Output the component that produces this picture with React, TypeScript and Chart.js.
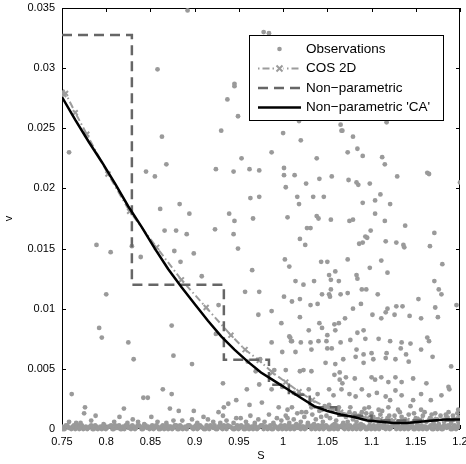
import React, { useEffect, useRef } from "react";
import { Chart, registerables } from "chart.js";
Chart.register(...registerables);

const X_TICKS = [0.75, 0.8, 0.85, 0.9, 0.95, 1, 1.05, 1.1, 1.15, 1.2];
const Y_TICKS = [0, 0.005, 0.01, 0.015, 0.02, 0.025, 0.03, 0.035];

const LABELS = ["Observations", "COS 2D", "Non\u2212parametric", "Non\u2212parametric 'CA'"];

// Observations: sparse upper cloud
const obsUpper: number[][] = [
  [1.000,0.0246],[1.020,0.0240],[1.066,0.0248],[1.079,0.0243],[1.073,0.0230],[1.084,0.0233],[1.090,0.0227],[1.038,0.0225],
  [1.112,0.0226],[1.115,0.0220],[1.001,0.0217],[1.001,0.0211],[1.013,0.0211],[1.041,0.0208],[1.055,0.0210],[1.129,0.0210],
  [1.163,0.0213],[1.165,0.0212],[1.074,0.0207],[1.083,0.0205],[1.085,0.0203],[1.098,0.0204],[1.026,0.0204],[1.003,0.0201],
  [1.200,0.0205],[1.016,0.0193],[1.034,0.0193],[1.046,0.0193],[1.104,0.0190],[1.110,0.0195],[1.018,0.0187],[1.090,0.0188],
  [1.121,0.0187],[1.005,0.0176],[1.038,0.0177],[1.040,0.0175],[1.054,0.0174],[1.075,0.0173],[1.079,0.0174],[1.104,0.0179],
  [1.115,0.0173],[1.138,0.0169],[1.027,0.0167],[1.031,0.0167],[1.099,0.0165],[1.171,0.0163],[1.019,0.0158],[1.025,0.0153],
  [1.093,0.0160],[1.095,0.0159],[1.086,0.0154],[1.090,0.0155],[1.116,0.0156],[1.128,0.0155],[1.136,0.0153],[1.137,0.0151],
  [1.166,0.0152],[1.002,0.0141],[1.007,0.0135],[1.043,0.0139],[1.050,0.0139],[1.073,0.0141],[1.111,0.0140],[1.180,0.0137],
  [1.098,0.0134],[1.118,0.0130],[1.059,0.0131],[1.052,0.0128],[1.054,0.0124],[1.063,0.0123],[1.083,0.0128],[1.084,0.0125],
  [1.014,0.0123],[1.023,0.0120],[1.035,0.0123],[1.171,0.0123],[1.054,0.0116],[1.089,0.0116],[1.094,0.0116],[1.176,0.0116],
  [1.179,0.0112],[1.001,0.0110],[1.010,0.0106],[1.019,0.0108],[1.044,0.0112],[1.052,0.0112],[1.053,0.0110],[1.065,0.0112],
  [1.073,0.0113],[1.107,0.0112],[1.153,0.0108],[1.031,0.0103],[1.039,0.0104],[1.088,0.0104],[1.079,0.0100],[1.118,0.0100],
  [1.128,0.0102],[1.135,0.0102],[1.172,0.0101],[1.196,0.0103],
  [0.892,0.0348],[0.978,0.0330],[0.984,0.0329],[0.945,0.0287],[0.945,0.0285],[0.937,0.0274],[0.949,0.0260],[0.930,0.0248],
  [0.863,0.0243],[1.018,0.0256],[0.858,0.0299],[1.065,0.0253],[1.067,0.0248],[1.117,0.0255],
  [0.758,0.0230],[0.789,0.0153],[0.805,0.0147],[0.800,0.0112],[0.829,0.0152],[0.839,0.0143],[0.845,0.0214],[0.855,0.0210],
  [0.868,0.0220],[0.861,0.0183],[0.866,0.0165],
  [0.924,0.0216],[0.944,0.0214],[0.953,0.0225],[0.962,0.0216],[0.973,0.0215],[0.987,0.0230],[0.963,0.0192],[0.973,0.0193],
  [0.883,0.0187],[0.894,0.0179],[0.939,0.0179],[0.945,0.0173],[0.966,0.0175],[0.879,0.0165],[0.891,0.0162],[0.923,0.0166],
  [0.944,0.0162],[0.949,0.0150],[0.877,0.0148],[0.884,0.0139],[0.899,0.0146],[0.908,0.0127],[0.965,0.0132],[0.957,0.0114],
  [0.973,0.0114],[0.927,0.0103],
];

// Observations: middle cloud (0.001 - 0.01)
const obsMiddle: number[][] = [
  [0.792,0.0084],[0.795,0.0076],[0.825,0.0072],[0.831,0.0058],[0.874,0.0086],[0.876,0.0061],[0.924,0.0079],[0.897,0.0054],
  [0.761,0.0029],[0.776,0.0018],[0.775,0.0013],[0.766,0.0005],[0.788,0.0011],[0.815,0.0010],[0.820,0.0017],[0.830,0.0008],
  [0.836,0.0006],[0.842,0.0026],[0.847,0.0026],[0.851,0.0010],[0.864,0.0033],[0.872,0.0017],[0.874,0.0029],[0.882,0.0015],
  [0.876,0.0007],[0.899,0.0015],[0.910,0.0010],[0.897,0.0008],[0.932,0.0038],[0.927,0.0014],[0.933,0.0018],[0.938,0.0021],
  [0.932,0.0011],[0.947,0.0009],[1.008,0.0076],[1.010,0.0073],
  [0.972,0.0095],[0.987,0.0098],[1.019,0.0093],[1.041,0.0088],[1.058,0.0087],[1.063,0.0088],[1.070,0.0092],[1.101,0.0095],
  [1.111,0.0092],[1.116,0.0097],[1.126,0.0095],[1.143,0.0094],[1.156,0.0092],[1.175,0.0093],[0.998,0.0088],[1.029,0.0082],
  [1.044,0.0084],[1.059,0.0082],[1.084,0.0080],[1.091,0.0082],[1.007,0.0077],[1.009,0.0073],[1.020,0.0072],[1.031,0.0072],
  [1.040,0.0073],[1.050,0.0078],[1.049,0.0073],[1.065,0.0072],[1.076,0.0074],[1.093,0.0075],[1.108,0.0075],[1.121,0.0073],
  [1.134,0.0072],[1.144,0.0071],[1.163,0.0076],[1.165,0.0073],[0.987,0.0072],[0.999,0.0064],[1.014,0.0064],[1.032,0.0066],
  [1.050,0.0067],[1.055,0.0067],[1.083,0.0066],[1.091,0.0062],[1.100,0.0063],[1.117,0.0063],[1.133,0.0067],[1.139,0.0062],
  [1.156,0.0066],[0.960,0.0056],[0.974,0.0058],[1.048,0.0055],[1.059,0.0054],[1.068,0.0058],[1.082,0.0060],[1.091,0.0055],
  [1.102,0.0058],[1.116,0.0059],[1.127,0.0058],[1.142,0.0056],[1.169,0.0060],[1.190,0.0052],[0.969,0.0048],[0.990,0.0049],
  [1.003,0.0049],[1.019,0.0048],[1.023,0.0049],[1.032,0.0048],[1.058,0.0045],[1.064,0.0047],[1.071,0.0043],[1.064,0.0041],
  [1.067,0.0038],[1.081,0.0042],[1.100,0.0043],[1.104,0.0041],[1.111,0.0043],[1.119,0.0039],[1.127,0.0043],[1.134,0.0039],
  [1.147,0.0042],[1.162,0.0038],[1.187,0.0035],[1.188,0.0033],[0.959,0.0033],[0.973,0.0037],[0.987,0.0033],[0.999,0.0035],
  [1.012,0.0030],[1.029,0.0033],[1.039,0.0029],[1.052,0.0033],[1.057,0.0028],[1.066,0.0033],[1.075,0.0029],[1.082,0.0027],
  [1.089,0.0033],[1.097,0.0028],[1.106,0.0030],[1.116,0.0027],[1.121,0.0024],[1.127,0.0032],[1.134,0.0028],[1.147,0.0024],
  [1.156,0.0029],[1.167,0.0024],[1.179,0.0028],[0.947,0.0024],[0.962,0.0020],[0.976,0.0022],[0.995,0.0018],[1.005,0.0016],
  [1.010,0.0018],[1.021,0.0014],[1.032,0.0018],[1.044,0.0016],[1.052,0.0020],[1.063,0.0018],[1.076,0.0018],[1.089,0.0014],
  [1.097,0.0018],[1.108,0.0016],[1.119,0.0018],[1.130,0.0016],[1.144,0.0019],[1.156,0.0016],[1.172,0.0013],[1.187,0.0014],
  [1.198,0.0016],
];

// Observations: low cloud just above the baseline
const obsLow: number[][] = [
  [0.758,0.0006],[0.771,0.0005],[0.783,0.0007],[0.797,0.0004],[0.809,0.0006],[0.824,0.0005],[0.843,0.0004],[0.858,0.0006],
  [0.868,0.0005],[0.886,0.0007],[0.903,0.0005],[0.915,0.0008],[0.921,0.0006],[0.929,0.0005],[0.936,0.0007],[0.944,0.0005],
  [0.952,0.0009],[0.958,0.0006],[0.963,0.0011],[0.968,0.0005],[0.972,0.0008],[0.979,0.0006],[0.984,0.0012],[0.989,0.0005],
  [0.993,0.0009],[0.998,0.0007],[1.003,0.0011],[1.007,0.0005],[1.012,0.0008],[1.016,0.0013],[1.020,0.0006],[1.024,0.0010],
  [1.028,0.0005],[1.033,0.0012],[1.037,0.0008],[1.041,0.0015],[1.045,0.0006],[1.049,0.0011],[1.053,0.0009],[1.056,0.0016],
  [1.060,0.0007],[1.064,0.0012],[1.068,0.0005],[1.071,0.0010],[1.075,0.0014],[1.079,0.0008],[1.083,0.0006],[1.086,0.0011],
  [1.090,0.0009],[1.094,0.0013],[1.098,0.0006],[1.102,0.0010],[1.106,0.0008],[1.110,0.0012],[1.114,0.0005],[1.118,0.0009],
  [1.122,0.0007],[1.126,0.0011],[1.130,0.0006],[1.134,0.0010],[1.138,0.0008],[1.142,0.0012],[1.146,0.0005],[1.150,0.0009],
  [1.154,0.0007],[1.158,0.0011],[1.162,0.0006],[1.166,0.0009],[1.170,0.0005],[1.174,0.0008],[1.178,0.0011],[1.182,0.0006],
  [1.186,0.0009],[1.190,0.0005],[1.194,0.0008],[1.198,0.0006],
  [1.005,0.0009],[1.015,0.0004],[1.026,0.0014],[1.035,0.0004],[1.043,0.0010],[1.047,0.0019],[1.058,0.0004],[1.062,0.0016],
  [1.073,0.0006],[1.081,0.0013],[1.088,0.0004],[1.092,0.0017],[1.100,0.0013],[1.108,0.0004],[1.112,0.0015],[1.120,0.0011],
  [1.128,0.0004],[1.132,0.0014],[1.140,0.0004],[1.148,0.0013],[1.152,0.0004],[1.160,0.0014],[1.168,0.0012],[1.176,0.0004],
  [1.184,0.0012],[1.192,0.0011],[1.197,0.0013],
];

// Observations: dense band at v ~ 0 (first layer)
const obsBand: number[][] = [
  [0.750,0.0002],[0.753,0],[0.756,0.0003],[0.759,0.0001],[0.762,0.0002],[0.765,0],[0.768,0.0003],[0.771,0.0001],
  [0.774,0],[0.777,0.0002],[0.780,0.0001],[0.783,0.0003],[0.786,0],[0.789,0.0002],[0.792,0.0001],[0.795,0],
  [0.798,0.0003],[0.801,0.0001],[0.804,0.0002],[0.807,0],[0.810,0.0003],[0.813,0.0001],[0.816,0],[0.819,0.0002],
  [0.822,0.0003],[0.825,0.0001],[0.828,0],[0.831,0.0002],[0.834,0.0001],[0.837,0.0003],[0.840,0],[0.843,0.0002],
  [0.846,0.0001],[0.849,0],[0.852,0.0003],[0.855,0.0001],[0.858,0.0002],[0.861,0],[0.864,0.0003],[0.867,0.0001],
  [0.870,0],[0.873,0.0002],[0.876,0.0001],[0.879,0.0003],[0.882,0],[0.885,0.0002],[0.888,0.0001],[0.891,0],
  [0.894,0.0003],[0.897,0.0001],[0.900,0.0002],[0.903,0],[0.906,0.0003],[0.909,0.0001],[0.912,0],[0.915,0.0002],
  [0.918,0.0003],[0.921,0.0001],[0.924,0],[0.927,0.0002],[0.930,0.0001],[0.933,0.0003],[0.936,0],[0.939,0.0002],
  [0.942,0.0001],[0.945,0],[0.948,0.0003],[0.951,0.0001],[0.954,0.0002],[0.957,0],[0.960,0.0003],[0.963,0.0001],
  [0.966,0],[0.969,0.0002],[0.972,0.0001],[0.975,0.0003],[0.978,0],[0.981,0.0002],[0.984,0.0001],[0.987,0],
  [0.990,0.0003],[0.993,0.0001],[0.996,0.0002],[0.999,0],[1.002,0.0003],[1.005,0.0001],[1.008,0],[1.011,0.0002],
  [1.014,0.0003],[1.017,0.0001],[1.020,0],[1.023,0.0002],[1.026,0.0001],[1.029,0.0003],[1.032,0],[1.035,0.0002],
  [1.038,0.0001],[1.041,0],[1.044,0.0003],[1.047,0.0001],[1.050,0.0002],[1.053,0],[1.056,0.0003],[1.059,0.0001],
  [1.062,0],[1.065,0.0002],[1.068,0.0001],[1.071,0.0003],[1.074,0],[1.077,0.0002],[1.080,0.0001],[1.083,0],
  [1.086,0.0003],[1.089,0.0001],[1.092,0.0002],[1.095,0],[1.098,0.0003],[1.101,0.0001],[1.104,0],[1.107,0.0002],
  [1.110,0.0003],[1.113,0.0001],[1.116,0],[1.119,0.0002],[1.122,0.0001],[1.125,0.0003],[1.128,0],[1.131,0.0002],
  [1.134,0.0001],[1.137,0],[1.140,0.0003],[1.143,0.0001],[1.146,0.0002],[1.149,0],[1.152,0.0003],[1.155,0.0001],
  [1.158,0],[1.161,0.0002],[1.164,0.0001],[1.167,0.0003],[1.170,0],[1.173,0.0002],[1.176,0.0001],[1.179,0],
  [1.182,0.0003],[1.185,0.0001],[1.188,0.0002],[1.191,0],[1.194,0.0003],[1.197,0.0001],[1.200,0.0002],
];

// Observations: dense band at v ~ 0 (second layer)
const obsBand2: number[][] = [
  [0.7515,0],[0.7545,0.0003],[0.7575,0.0001],[0.7605,0],[0.7635,0.0003],[0.7665,0.0002],[0.7695,0],[0.7725,0.0003],
  [0.7755,0.0001],[0.7785,0],[0.7815,0.0002],[0.7845,0],[0.7875,0.0003],[0.7905,0],[0.7935,0.0002],[0.7965,0.0001],
  [0.7995,0],[0.8025,0.0002],[0.8055,0.0003],[0.8085,0],[0.8115,0.0001],[0.8145,0.0003],[0.8175,0],[0.8205,0],
  [0.8235,0.0003],[0.8265,0.0002],[0.8295,0.0003],[0.8325,0],[0.8355,0.0003],[0.8385,0.0002],[0.8415,0],[0.8445,0.0003],
  [0.8475,0.0002],[0.8505,0.0001],[0.8535,0],[0.8565,0.0003],[0.8595,0],[0.8625,0.0002],[0.8655,0],[0.8685,0.0003],
  [0.8715,0.0002],[0.8745,0],[0.8775,0.0003],[0.8805,0],[0.8835,0.0003],[0.8865,0],[0.8895,0.0002],[0.8925,0.0003],
  [0.8955,0.0002],[0.8985,0],[0.9015,0.0003],[0.9045,0.0001],[0.9075,0.0002],[0.9105,0],[0.9135,0.0003],[0.9165,0],
  [0.9195,0.0002],[0.9225,0.0003],[0.9255,0],[0.9285,0.0003],[0.9315,0],[0.9345,0.0002],[0.9375,0.0003],[0.9405,0.0002],
  [0.9435,0],[0.9465,0.0001],[0.9495,0],[0.9525,0.0003],[0.9555,0],[0.9585,0.0003],[0.9615,0],[0.9645,0.0002],
  [0.9675,0.0003],[0.9705,0],[0.9735,0.0002],[0.9765,0.0003],[0.9795,0.0002],[0.9825,0],[0.9855,0.0003],[0.9885,0],
  [0.9915,0.0002],[0.9945,0],[0.9975,0.0003],[1.0005,0.0002],[1.0035,0],[1.0065,0.0003],[1.0095,0.0002],[1.0125,0],
  [1.0155,0.0001],[1.0185,0.0003],[1.0215,0.0002],[1.0245,0],[1.0275,0.0003],[1.0305,0.0002],[1.0335,0.0003],[1.0365,0],
  [1.0395,0.0003],[1.0425,0.0002],[1.0455,0],[1.0485,0.0003],[1.0515,0],[1.0545,0.0002],[1.0575,0],[1.0605,0.0003],
  [1.0635,0.0002],[1.0665,0.0003],[1.0695,0],[1.0725,0.0002],[1.0755,0.0003],[1.0785,0],[1.0815,0.0003],[1.0845,0.0002],
  [1.0875,0],[1.0905,0.0003],[1.0935,0],[1.0965,0.0002],[1.0995,0],[1.1025,0.0003],[1.1055,0.0002],[1.1085,0],
  [1.1115,0.0002],[1.1145,0.0003],[1.1175,0.0002],[1.1205,0],[1.1235,0.0003],[1.1265,0.0002],[1.1295,0.0003],[1.1325,0],
  [1.1355,0.0003],[1.1385,0.0002],[1.1415,0],[1.1445,0.0003],[1.1475,0],[1.1505,0.0002],[1.1535,0],[1.1565,0.0003],
  [1.1595,0.0002],[1.1625,0],[1.1655,0.0002],[1.1685,0],[1.1715,0.0003],[1.1745,0],[1.1775,0.0002],[1.1805,0],
  [1.1835,0.0002],[1.1865,0.0003],[1.1895,0],[1.1925,0.0002],[1.1955,0],[1.1985,0.0003],
];

// COS 2D
const cosS = [0.750, 0.752, 0.754, 0.765, 0.778, 0.802, 0.8265, 0.857, 0.885, 0.913, 0.941, 0.957, 0.973, 0.988, 1.003, 1.018, 1.033, 1.050, 1.065, 1.080, 1.095, 1.110, 1.125, 1.140, 1.155, 1.170, 1.185, 1.200];
const cosV = [0.0280, 0.0278, 0.0279, 0.0263, 0.0245, 0.0212, 0.0181, 0.0151, 0.0124, 0.0101, 0.0078, 0.0066, 0.0057, 0.0047, 0.0039, 0.0031, 0.0024, 0.0018, 0.0014, 0.0011, 0.0009, 0.0008, 0.0007, 0.0007, 0.0008, 0.0008, 0.0009, 0.0010];

// Non-parametric (step function, value holds until next break)
const npS = [0.75, 0.829, 0.933, 0.984, 1.0065, 1.03, 1.06, 1.10, 1.2];
const npV = [0.03275, 0.0120, 0.00575, 0.00367, 0.00285, 0.0018, 0.0011, 0.0007, 0.0007];

// Non-parametric 'CA'
const caS = [0.75, 0.765, 0.78, 0.795, 0.81, 0.825, 0.84, 0.855, 0.87, 0.885, 0.90, 0.915, 0.93, 0.945, 0.96, 0.975, 0.99, 1.005, 1.02, 1.035, 1.05, 1.065, 1.08, 1.095, 1.11, 1.125, 1.14, 1.155, 1.17, 1.185, 1.2];
const caV = [0.0276, 0.0257, 0.0239, 0.0222, 0.0204, 0.0185, 0.0168, 0.0150, 0.0133, 0.0118, 0.0104, 0.0090, 0.0077, 0.0066, 0.0056, 0.0047, 0.0040, 0.0033, 0.0026, 0.0019, 0.0015, 0.0012, 0.0010, 0.0007, 0.0006, 0.0005, 0.0005, 0.0006, 0.0007, 0.0008, 0.0008];

const FONT = '"Liberation Sans", Arial, Helvetica, sans-serif';
const OBS_COLOR = "#9a9a9a";
const COS_COLOR = "#9c9c9c";
const NP_COLOR = "#666666";

const pairs = (a: number[][]) => a.map(([x, y]) => ({ x, y }));
const zipXY = (xs: number[], ys: number[]) => xs.map((x, i) => ({ x, y: ys[i] }));
const fmt = (v: number) => String(+v.toFixed(4));

// npS / npV: step values from each break to the next
const stepData = () => {
  const out: { x: number; y: number }[] = [];
  for (let i = 0; i < npS.length; i++) {
    if (i > 0) out.push({ x: npS[i], y: npV[i - 1] });
    out.push({ x: npS[i], y: npV[i] });
  }
  return out;
};

const framePlugin = {
  id: "matlabFrame",
  beforeDatasetsDraw(chart: any) {
    const { ctx, chartArea } = chart;
    const { left, right, top, bottom } = chartArea;
    ctx.save();
    ctx.strokeStyle = "#000";
    ctx.lineWidth = 1;
    ctx.strokeRect(left + 0.5, top + 0.5, right - left - 1, bottom - top - 1);
    const xs = chart.scales.x;
    const ys = chart.scales.y;
    const L = 4;
    ctx.beginPath();
    X_TICKS.forEach((v) => {
      const p = Math.round(xs.getPixelForValue(v)) + 0.5;
      ctx.moveTo(p, bottom); ctx.lineTo(p, bottom - L);
      ctx.moveTo(p, top); ctx.lineTo(p, top + L);
    });
    Y_TICKS.forEach((v) => {
      const p = Math.round(ys.getPixelForValue(v)) + 0.5;
      ctx.moveTo(left, p); ctx.lineTo(left + L, p);
      ctx.moveTo(right, p); ctx.lineTo(right - L, p);
    });
    ctx.stroke();
    ctx.restore();
  },
};

const legendPlugin = {
  id: "matlabLegend",
  afterDraw(chart: any) {
    const { ctx } = chart;
    const bx = 249.5, by = 35.5, bw = 194, bh = 85;
    const rows = [49, 68.5, 88, 107.5];
    const x0 = 258, x1 = 301, tx = 306;
    ctx.save();
    ctx.fillStyle = "#fff";
    ctx.fillRect(bx, by, bw, bh);
    ctx.strokeStyle = "#000";
    ctx.lineWidth = 1;
    ctx.strokeRect(bx, by, bw, bh);
    const mid = (x0 + x1) / 2;
    ctx.fillStyle = OBS_COLOR;
    ctx.beginPath();
    ctx.arc(mid, rows[0], 2.3, 0, Math.PI * 2);
    ctx.fill();
    ctx.strokeStyle = COS_COLOR;
    ctx.lineWidth = 2;
    ctx.setLineDash([1.5, 3, 7, 3]);
    ctx.beginPath();
    ctx.moveTo(x0, rows[1]); ctx.lineTo(x1, rows[1]);
    ctx.stroke();
    ctx.setLineDash([]);
    ctx.fillStyle = "#fff";
    ctx.fillRect(mid - 4, rows[1] - 4, 8, 8);
    ctx.beginPath();
    ctx.moveTo(mid - 3, rows[1] - 3); ctx.lineTo(mid + 3, rows[1] + 3);
    ctx.moveTo(mid - 3, rows[1] + 3); ctx.lineTo(mid + 3, rows[1] - 3);
    ctx.stroke();
    ctx.strokeStyle = NP_COLOR;
    ctx.lineWidth = 2.5;
    ctx.setLineDash([10, 6]);
    ctx.beginPath();
    ctx.moveTo(x0, rows[2]); ctx.lineTo(x1 + 1, rows[2]);
    ctx.stroke();
    ctx.setLineDash([]);
    ctx.strokeStyle = "#000";
    ctx.lineWidth = 2.5;
    ctx.beginPath();
    ctx.moveTo(x0, rows[3]); ctx.lineTo(x1, rows[3]);
    ctx.stroke();
    ctx.fillStyle = "#000";
    ctx.font = `13.5px ${FONT}`;
    ctx.textBaseline = "middle";
    ctx.textAlign = "left";
    LABELS.forEach((t, i) => ctx.fillText(t, tx, rows[i]));
    ctx.restore();
  },
};

export default function App() {
  const ref = useRef<HTMLCanvasElement | null>(null);
  useEffect(() => {
    if (!ref.current) return;
    const obs = [...pairs(obsBand), ...pairs(obsBand2), ...pairs(obsLow), ...pairs(obsMiddle), ...pairs(obsUpper)];
    const chart = new Chart(ref.current, {
      type: "scatter",
      data: {
        datasets: [
          {
            label: LABELS[0],
            data: obs,
            pointRadius: 2.4,
            pointBackgroundColor: OBS_COLOR,
            pointBorderWidth: 0,
            showLine: false,
            order: 4,
            clip: { left: 0, right: 0, top: 0, bottom: 4 } as any,
          },
          {
            label: LABELS[1],
            type: "line",
            data: zipXY(cosS, cosV),
            borderColor: COS_COLOR,
            borderWidth: 2,
            borderDash: [7, 3, 1.5, 3],
            pointStyle: "crossRot",
            pointRadius: 3.5,
            pointBorderWidth: 2,
            pointBorderColor: COS_COLOR,
            pointBackgroundColor: COS_COLOR,
            tension: 0,
            order: 3,
          } as any,
          {
            label: LABELS[2],
            type: "line",
            data: stepData(),
            borderColor: NP_COLOR,
            borderWidth: 2.5,
            borderDash: [10, 6],
            pointRadius: 0,
            tension: 0,
            order: 2,
          } as any,
          {
            label: LABELS[3],
            type: "line",
            data: zipXY(caS, caV),
            borderColor: "#000",
            borderWidth: 2.5,
            pointRadius: 0,
            tension: 0,
            order: 1,
          } as any,
        ],
      },
      options: {
        responsive: false,
        animation: false,
        events: [],
        layout: { padding: { left: 0, right: 4, top: 8, bottom: 0 } },
        plugins: { legend: { display: false }, tooltip: { enabled: false } },
        scales: {
          x: {
            type: "linear",
            min: 0.75,
            max: 1.2,
            afterBuildTicks: (s: any) => { s.ticks = X_TICKS.map((v) => ({ value: v })); },
            afterFit: (s: any) => { s.height = 35; s.paddingLeft = 0; s.paddingRight = 0; },
            grid: { display: false, drawTicks: false },
            border: { display: false },
            ticks: {
              padding: 6,
              maxRotation: 0,
              autoSkip: false,
              color: "#000",
              font: { family: FONT, size: 11 },
              callback: (v: any) => fmt(Number(v)),
            },
            title: { display: true, text: "S", color: "#000", font: { family: FONT, size: 11 }, padding: { top: 0, bottom: 1 } },
          },
          y: {
            type: "linear",
            min: 0,
            max: 0.035,
            afterBuildTicks: (s: any) => { s.ticks = Y_TICKS.map((v) => ({ value: v })); },
            afterFit: (s: any) => { s.width = 62; s.paddingTop = 0; s.paddingBottom = 0; },
            grid: { display: false, drawTicks: false },
            border: { display: false },
            ticks: {
              padding: 7,
              autoSkip: false,
              color: "#000",
              font: { family: FONT, size: 11 },
              callback: (v: any) => fmt(Number(v)),
            },
            title: { display: true, text: "v", color: "#000", font: { family: FONT, size: 11 }, padding: { top: 2, bottom: 0 } },
          },
        },
      },
      plugins: [framePlugin, legendPlugin],
    });
    return () => chart.destroy();
  }, []);
  return (
    <div style={{ position: "absolute", left: 0, top: 0, width: 466, height: 464, background: "#fff" }}>
      <canvas ref={ref} width={466} height={464} style={{ display: "block" }} />
    </div>
  );
}
